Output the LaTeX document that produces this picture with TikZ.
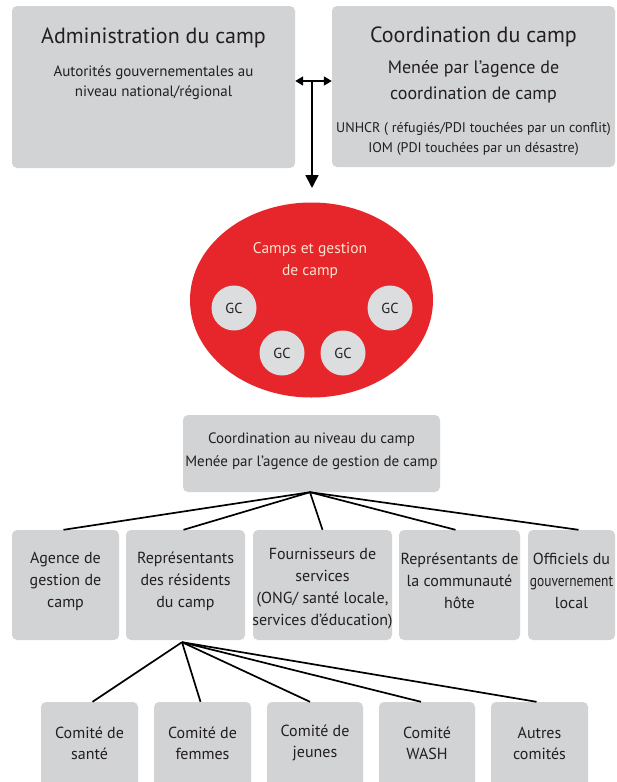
\documentclass[tikz,border=0pt]{standalone}
\usepackage{fontspec}
\setmainfont{PT Sans}
\usetikzlibrary{arrows.meta,shapes.geometric}
\definecolor{boxgray}{HTML}{D1D3D4}
\definecolor{campred}{HTML}{E6262A}
\definecolor{gcgray}{HTML}{DCDDDE}
\definecolor{ink}{HTML}{231F20}
\definecolor{pinktxt}{HTML}{FDE3CF}
\tikzset{
  panel/.style={fill=boxgray, rounded corners=5pt, inner sep=0pt, draw=none},
  txt/.style={text=ink, align=center, inner sep=0pt},
  link/.style={line width=1.7pt, draw=black},
  gc/.style={circle, fill=gcgray, minimum size=45pt, inner sep=0pt, text=ink, font=\fontsize{14.5}{16}\selectfont},
  rowtxt/.style={txt, font=\fontsize{16}{22}\selectfont},
}
\begin{document}
\begin{tikzpicture}[x=1pt,y=-1pt]
\useasboundingbox (0,0) rectangle (617,782);
\clip (0,0) rectangle (617,782);

% top boxes
\node[panel, minimum width=283pt, minimum height=162pt] (adm) at (153.5,87) {};
\node[panel, minimum width=283pt, minimum height=161pt] (coo) at (473.5,86.5) {};
\node[txt, font=\fontsize{22}{26}\selectfont] (admt) at (153.5,38) {Administration du camp};
\node[txt, font=\fontsize{15}{20}\selectfont] (adms) at (153.5,83) {Autorités gouvernementales au\\niveau national/régional};
\node[txt, font=\fontsize{22}{26}\selectfont] (coot) at (473.5,37) {Coordination du camp};
\node[txt, font=\fontsize{18}{25.5}\selectfont] (coos) at (473.5,82) {Menée par l’agence de\\coordination de camp};
\node[txt, font=\fontsize{14}{20}\selectfont] (coou) at (473.5,139) {UNHCR ( réfugiés/PDI touchées par un conflit)\\IOM (PDI touchées par un désastre)};

% arrows
\coordinate (j) at (312,81);
\coordinate (arrtip) at (312,188);
\draw[link, {Triangle[length=8pt,width=9pt]}-{Triangle[length=8pt,width=9pt]}] (adm.east |- j) -- (coo.west |- j);
\draw[link, -{Triangle[length=13pt,width=13pt]}] (j) -- (arrtip);

% camp ellipse
\node[ellipse, fill=campred, minimum width=243pt, minimum height=195pt, inner sep=0pt] (camp) at (311.5,300) {};
\node[txt, text=pinktxt, font=\fontsize{15.5}{22}\selectfont] (campt) at (310,261) {Camps et gestion\\de camp};
\node[gc] (gc1) at (234,308) {GC};
\node[gc] (gc2) at (390,308) {GC};
\node[gc] (gc3) at (282,353) {GC};
\node[gc] (gc4) at (343,353) {GC};

% camp level coordination
\node[panel, minimum width=257pt, minimum height=77pt] (clev) at (311.5,453.5) {};
\node[txt, font=\fontsize{15}{23}\selectfont] (clevt) at (311.5,451.5) {Coordination au niveau du camp\\Menée par l’agence de gestion de camp};

% middle row
\node[panel, minimum width=107pt, minimum height=110pt] (b1) at (65.5,585) {};
\node[panel, minimum width=119pt, minimum height=110pt] (b2) at (185.5,585) {};
\node[panel, minimum width=139pt, minimum height=110pt] (b3) at (322.5,585) {};
\node[panel, minimum width=121pt, minimum height=110pt] (b4) at (459.5,585) {};
\node[panel, minimum width=87pt, minimum height=110pt] (b5) at (571.5,585) {};
\node[rowtxt] (b1t) at (65.5,581) {Agence de\\gestion de\\camp};
\node[rowtxt] (b2t) at (185.5,581) {Représentants\\des résidents\\du camp};
\node[rowtxt] (b3t) at (322.5,589) {Fournisseurs de\\services\\(ONG/ santé locale,\\services d’éducation)};
\node[rowtxt] (b4t) at (459.5,581) {Représentants de\\la communauté\\hôte};
\node[rowtxt] (b5t) at (571.5,581) {Officiels du\\\scalebox{0.84}[1]{gouvernement}\\local};

% bottom row
\node[panel, minimum width=97pt, minimum height=98pt] (c1) at (89.5,751) {};
\node[panel, minimum width=97pt, minimum height=98pt] (c2) at (202.5,751) {};
\node[panel, minimum width=96pt, minimum height=98pt] (c3) at (315,751) {};
\node[panel, minimum width=96pt, minimum height=98pt] (c4) at (427,751) {};
\node[panel, minimum width=97pt, minimum height=98pt] (c5) at (539.5,751) {};
\node[rowtxt, font=\fontsize{16}{21}\selectfont] (c1t) at (89.5,743) {Comité de\\santé};
\node[rowtxt, font=\fontsize{16}{21}\selectfont] (c2t) at (202.5,743) {Comité de\\femmes};
\node[rowtxt, font=\fontsize{16}{21}\selectfont] (c3t) at (315,743) {Comité de\\jeunes};
\node[rowtxt, font=\fontsize{16}{21}\selectfont] (c4t) at (427,743) {Comité\\WASH};
\node[rowtxt, font=\fontsize{16}{21}\selectfont] (c5t) at (539.5,743) {Autres\\comités};

% fans
\coordinate (f1) at ([xshift=-1.5pt]clev.south);
\draw[link] (f1) -- ([xshift=-2pt]b1.north);
\draw[link] (f1) -- ([xshift=-2pt]b2.north);
\draw[link] (f1) -- (b3.north);
\draw[link] (f1) -- ([xshift=-4pt]b4.north);
\draw[link] (f1) -- ([xshift=7pt]b5.north);

\coordinate (f2) at ([xshift=-3.5pt,yshift=-2pt]b2.south);
\draw[link] (f2) -- ([xshift=3pt]c1.north);
\draw[link] (f2) -- ([xshift=-2pt]c2.north);
\draw[link] (f2) -- ([xshift=-5pt]c3.north);
\draw[link] (f2) -- ([xshift=-6pt]c4.north);
\draw[link] (f2) -- ([xshift=-3pt]c5.north);
\end{tikzpicture}
\end{document}
